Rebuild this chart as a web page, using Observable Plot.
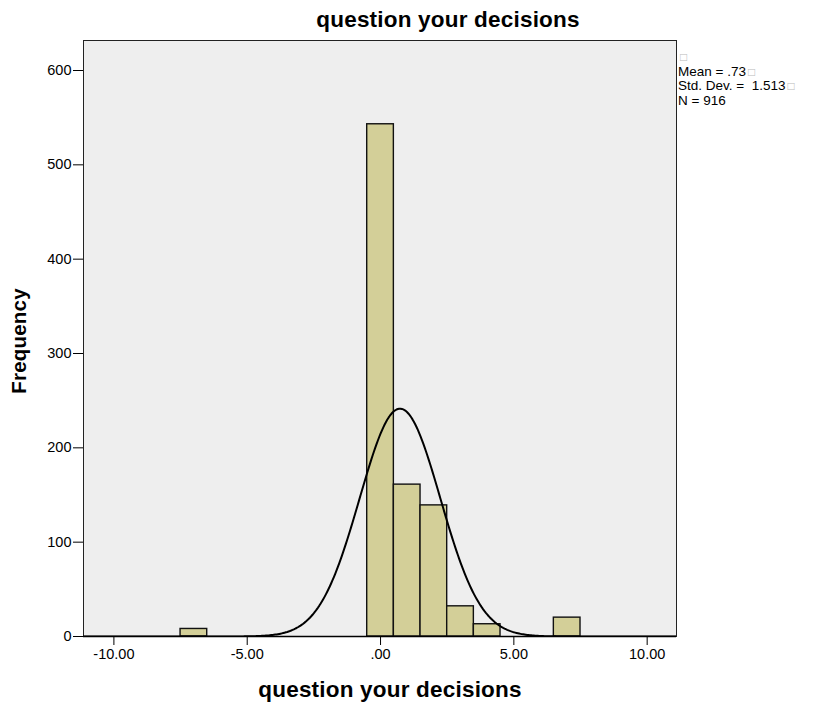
<!DOCTYPE html>
<html>
<head>
<meta charset="utf-8">
<script src="https://cdn.jsdelivr.net/npm/d3@7"></script>
<script src="https://cdn.jsdelivr.net/npm/@observablehq/plot@0.6"></script>
<style>
  body { margin: 0; background: #fff; font-family: "Liberation Sans", Arial, sans-serif; }
  #wrap { position: relative; width: 822px; height: 706px; }
  .ov { position: absolute; color: #000; white-space: nowrap; }
  .title { font-weight: bold; font-size: 22.5px; letter-spacing: 0.2px; }
  .box { color: #bbb; font-size: 12px; margin-left: 2px; }
  svg text { font-family: "Liberation Sans", Arial, sans-serif; }
</style>
</head>
<body>
<div id="wrap"></div>
<script>
// Histogram data (bin centres, frequencies)
const binCenters = [-7, 0, 1, 2, 3, 4, 7];
const frequencies = [8, 543, 161, 139, 32, 13, 20];
const binWidth = 1;
// Summary statistics shown in legend
const statMean = 0.73;
const statSD = 1.513;
const statN = 916;
// Axis ticks
const xTicks = [-10, -5, 0, 5, 10];
const xTickLabels = ["-10.00", "-5.00", ".00", "5.00", "10.00"];
const yTicks = [0, 100, 200, 300, 400, 500, 600];

const bars = binCenters.map((c, i) => ({x1: c - binWidth / 2, x2: c + binWidth / 2, y: frequencies[i]}));

// Fitted normal curve from the stated mean / SD / N
const curve = d3.range(-11.2, 11.2, 0.05).map(x => ({
  x,
  y: statN * binWidth * Math.exp(-0.5 * ((x - statMean) / statSD) ** 2) / (statSD * Math.sqrt(2 * Math.PI))
}));

const chart = Plot.plot({
  width: 822,
  height: 706,
  marginLeft: 83,
  marginRight: 146,
  marginTop: 40,
  marginBottom: 70,
  style: {fontFamily: "Liberation Sans, Arial, sans-serif", fontSize: "14px", color: "#000", background: "#fff"},
  x: {domain: [-11.14, 11.1]},
  y: {domain: [0, 600 * 596 / 566]},
  marks: [
    Plot.frame({fill: "#eeeeee", stroke: null}),
    Plot.rectY(bars, {x1: "x1", x2: "x2", y: "y", fill: "#d3cf98", stroke: "#111", strokeWidth: 1.4}),
    Plot.line(curve, {x: "x", y: "y", stroke: "#000", strokeWidth: 2, clip: true}),
    Plot.frame({stroke: "#222", strokeWidth: 1}),
    Plot.ruleY([0], {stroke: "#000", strokeWidth: 1.5}),
    Plot.axisX({ticks: xTicks, tickFormat: d => xTickLabels[xTicks.indexOf(d)], tickSize: 9, tickPadding: 3, label: null, fontSize: 14.5}),
    Plot.axisY({ticks: yTicks, tickFormat: d => String(d), tickSize: 10, tickPadding: 2, label: null, fontSize: 14.5})
  ]
});

const wrap = document.getElementById("wrap");
wrap.appendChild(chart);

function ov(html, css, cls) {
  const d = document.createElement("div");
  d.className = "ov " + (cls || "");
  d.innerHTML = html;
  Object.assign(d.style, css);
  wrap.appendChild(d);
  return d;
}
ov("question your decisions", {left: "448px", top: "20px", transform: "translate(-50%,-50%)"}, "title");
ov("question your decisions", {left: "390px", top: "690px", transform: "translate(-50%,-50%)"}, "title");
ov("Frequency", {left: "19px", top: "341px", fontSize: "20.5px", transform: "translate(-50%,-50%) rotate(-90deg)"}, "title");
ov(
  '<span class="box">\u25A1</span><br>' +
  'Mean = .' + String(statMean).split(".")[1] + '<span class="box">\u25A1</span><br>' +
  'Std. Dev. =&nbsp; ' + statSD + '<span class="box">\u25A1</span><br>' +
  'N = ' + statN,
  {left: "678px", top: "50px", fontSize: "13.5px", lineHeight: "13.5px"});
</script>
</body>
</html>
